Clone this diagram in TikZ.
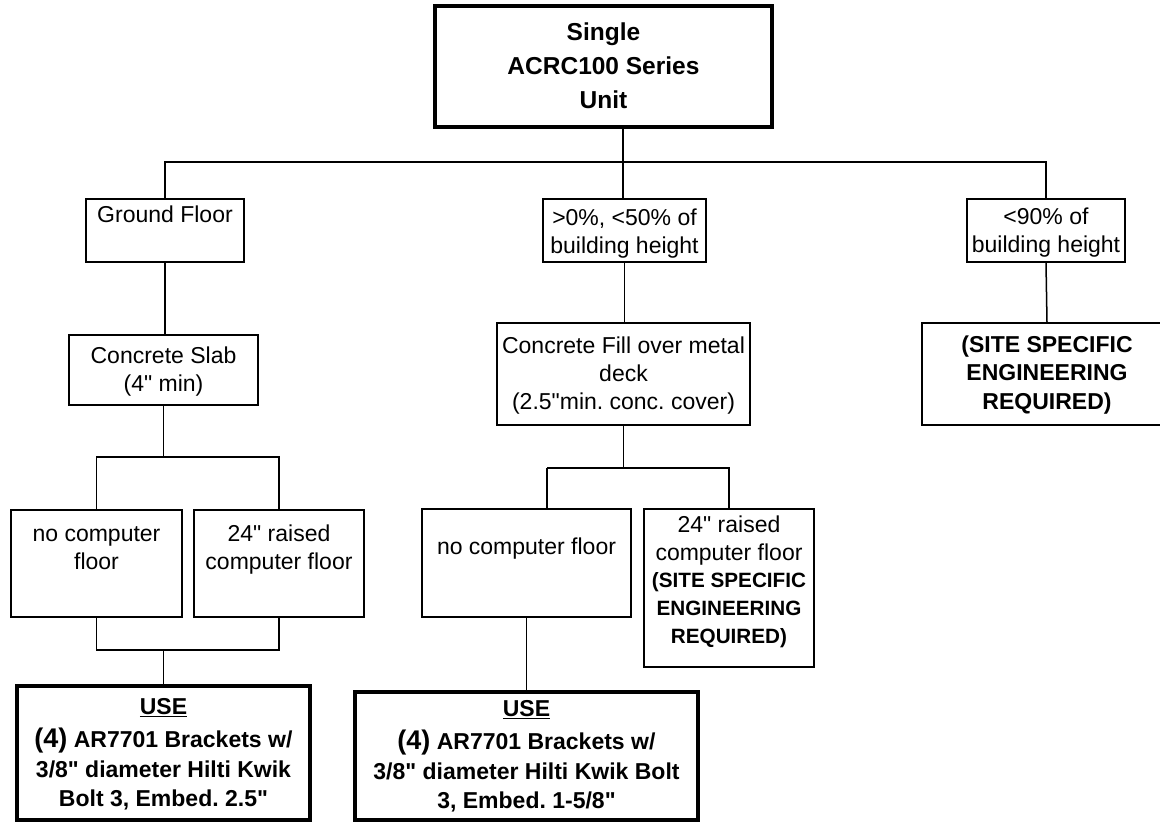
\documentclass[tikz,border=0pt]{standalone}
\usepackage{fontspec}
\setmainfont{Liberation Sans}[Ligatures=TeXOff]
\usetikzlibrary{fit}
\begin{document}
\frenchspacing
\begin{tikzpicture}[x=1pt,y=-1pt,
  box/.style={draw, line width=1.6pt, inner sep=0pt},
  tbox/.style={draw, line width=3.2pt, inner sep=0pt},
  conn/.style={line width=1.5pt},
  txt/.style={inner sep=0pt, align=center, anchor=north, font=\fontsize{23}{28}\selectfont},
  usetxt/.style={inner sep=0pt, align=center, anchor=north, font=\fontsize{23}{29.5}\selectfont\bfseries}
]
\useasboundingbox (0,0) rectangle (1160,822);
\fill[white] (0,0) rectangle (1160,822);

% boxes
\node[tbox, fit={(435,6) (772,127)}] (top) {};
\node[txt, font=\fontsize{24.5}{34}\selectfont\bfseries] (topt) at (603.5,22.5) {Single\\ACRC100 Series\\Unit};

\node[box, fit={(86,199) (244,262)}] (gf) {};
\node[txt] (gft) at (165,206) {Ground Floor};

\node[box, fit={(543,199) (706,262)}] (mid) {};
\node[txt] (midt) at (624.5,208.4) {>0\%, <50\% of\\building height};

\node[box, fit={(967,199) (1125,262)}] (r90) {};
\node[txt] (r90t) at (1046,207.5) {<90\% of\\building height};

\node[box, fit={(69,335) (258,405)}] (slab) {};
\node[txt] (slabt) at (163.5,346.5) {Concrete Slab\\(4" min)};

\node[box, fit={(497,323) (750,425)}] (fill) {};
\node[txt] (fillt) at (623.5,336.5) {Concrete Fill over metal\\deck\\(2.5"min. conc. cover)};

\node[box, fit={(922,323) (1172,425)}] (site) {};
\node[txt, font=\fontsize{23}{28.5}\selectfont\bfseries] (sitet) at (1047,335.5) {(SITE SPECIFIC\\ENGINEERING\\REQUIRED)};

\node[box, fit={(11,510) (182,617)}] (ncfa) {};
\node[txt] (ncfat) at (96.5,526) {no computer\\floor};

\node[box, fit={(194,510) (364,617)}] (rfa) {};
\node[txt] (rfat) at (279,525) {24" raised\\computer floor};

\node[box, fit={(422,509) (631,617)}] (ncfb) {};
\node[txt] (ncfbt) at (526.5,538) {no computer floor};

\node[box, fit={(644,509) (814,667)}] (rfb) {};
\node[txt, font=\fontsize{23}{27.8}\selectfont] (rfbt) at (729,515.5) {24" raised\\computer floor\\{\fontsize{20.7}{27.8}\selectfont\bfseries (SITE SPECIFIC}\\{\fontsize{20.7}{27.8}\selectfont\bfseries ENGINEERING}\\{\fontsize{20.7}{27.8}\selectfont\bfseries REQUIRED)}};

\node[tbox, fit={(17,686) (310,820)}] (usea) {};
\node[usetxt] (useat) at (163.5,698.5) {\underline{USE}\\[3.5pt]{\fontsize{27}{29.5}\selectfont (4)} AR7701 Brackets w/\\3/8" diameter Hilti Kwik\\Bolt 3, Embed. 2.5"};

\node[tbox, fit={(355,692) (698,820)}] (useb) {};
\node[usetxt] (usebt) at (526.5,700.5) {\underline{USE}\\[3.5pt]{\fontsize{27}{29.5}\selectfont (4)} AR7701 Brackets w/\\3/8" diameter Hilti Kwik Bolt\\3, Embed. 1-5/8"};

% connectors
\coordinate (j0) at (623,162);
\draw[conn] (top.south -| j0) -- (j0);
\draw[conn] (gf.north) |- (j0) -| (r90.north);
\draw[conn] (j0) -- (j0 |- mid.north);

\draw[conn] (gf.south) -- (gf.south |- slab.north);
\coordinate (j1) at (163.5,457);
\draw[conn] (slab.south) -- (j1);
\draw[conn] (ncfa.north) |- (j1) -| (rfa.north);
\coordinate (j2) at (163.5,650);
\draw[conn] (ncfa.south) |- (j2) -| (rfa.south);
\draw[conn] (j2) -- (usea.north);

\draw[conn] (mid.south) -- (mid.south |- fill.north);
\coordinate (j3) at (623.5,468);
\draw[conn] (fill.south) -- (j3);
\coordinate (j4) at (547,468);
\draw[conn] (j4) -- (j4 |- ncfb.north);
\draw[conn] (j4) -| (rfb.north);
\draw[conn] (ncfb.south) -- (useb.north);

\draw[conn] (r90.south) -- (site.north);
\end{tikzpicture}
\end{document}
